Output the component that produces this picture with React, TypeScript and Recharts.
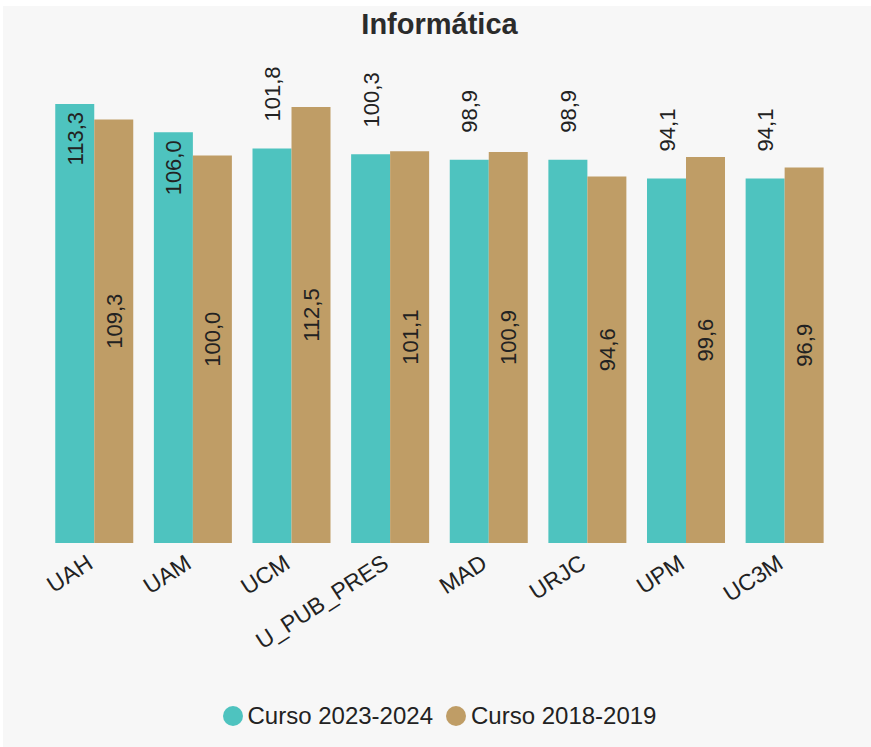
import React from 'react';
import { Bar, BarChart, LabelList, Legend, XAxis, YAxis } from 'recharts';

const categories = ['UAH', 'UAM', 'UCM', 'U_PUB_PRES', 'MAD', 'URJC', 'UPM', 'UC3M'];
const curso2023 = [113.3, 106.0, 101.8, 100.3, 98.9, 98.9, 94.1, 94.1];
const curso2018 = [109.3, 100.0, 112.5, 101.1, 100.9, 94.6, 99.6, 96.9];
const seriesNames = ['Curso 2023-2024', 'Curso 2018-2019'];

const TEAL = '#4ec3bf';
const TAN = '#bf9d66';
const BG = '#f7f7f7';
const TEXT = '#222222';
const FONT = '"Liberation Sans", Arial, Helvetica, sans-serif';

const W = 868;
const H = 741;

const data = categories.map((name, i) => ({
  name,
  c2023: curso2023[i],
  c2018: curso2018[i],
}));

const fmt = (v: number) => v.toFixed(1).replace('.', ',');

// teal labels sit above the bar, or inside its top when there is no room
function TopLabel(props: any) {
  const { x, y, width, value } = props;
  const cx = x + width / 2 + 8;
  const inside = y - 82 < 50;
  const ty = inside ? y + 8 : y - 27;
  return (
    <text
      x={cx}
      y={ty}
      transform={`rotate(-90, ${cx}, ${ty})`}
      textAnchor={inside ? 'end' : 'start'}
      fontSize={22}
      fontFamily={FONT}
      fill={TEXT}
    >
      {fmt(value)}
    </text>
  );
}

function MidLabel(props: any) {
  const { x, y, width, height, value } = props;
  const cx = x + width / 2 + 8;
  const ty = y + height / 2 - 10;
  return (
    <text
      x={cx}
      y={ty}
      transform={`rotate(-90, ${cx}, ${ty})`}
      textAnchor="middle"
      fontSize={22}
      fontFamily={FONT}
      fill={TEXT}
    >
      {fmt(value)}
    </text>
  );
}

function CategoryTick(props: any) {
  const { x, y, payload } = props;
  const ty = y + 24;
  return (
    <text
      x={x}
      y={ty}
      transform={`rotate(-33, ${x}, ${ty})`}
      textAnchor="end"
      fontSize={23}
      fontFamily={FONT}
      fill={TEXT}
    >
      {payload.value}
    </text>
  );
}

function LegendContent() {
  const colors = [TEAL, TAN];
  return (
    <div
      style={{
        display: 'flex',
        justifyContent: 'center',
        alignItems: 'center',
        height: 30,
        fontFamily: FONT,
        fontSize: 24,
        color: TEXT,
      }}
    >
      {seriesNames.map((n, i) => (
        <div key={n} style={{ display: 'flex', alignItems: 'center', marginLeft: i ? 13 : 0 }}>
          <span
            style={{
              width: 20,
              height: 20,
              borderRadius: '50%',
              background: colors[i],
              marginRight: 5,
              display: 'inline-block',
            }}
          />
          <span>{n}</span>
        </div>
      ))}
    </div>
  );
}

export default function App() {
  return (
    <div style={{ position: 'absolute', left: 3, top: 6, width: W, height: H, background: BG }}>
      <div
        style={{
          position: 'absolute',
          left: 42,
          width: 789,
          top: 4,
          textAlign: 'center',
          fontFamily: FONT,
          fontWeight: 'bold',
          fontSize: 29,
          lineHeight: '29px',
          color: '#2b2b2b',
        }}
      >
        Informática
      </div>
      <BarChart
        width={W}
        height={H}
        data={data}
        margin={{ top: 98, right: 37, left: 42, bottom: 16 }}
        barCategoryGap="10.4%"
        barGap={0}
      >
        <XAxis
          dataKey="name"
          interval={0}
          height={158}
          axisLine={false}
          tickLine={false}
          tickSize={0}
          tickMargin={0}
          tick={<CategoryTick />}
        />
        <YAxis hide domain={[0, 'dataMax']} />
        <Legend verticalAlign="bottom" height={30} content={<LegendContent />} />
        <Bar dataKey="c2023" name={seriesNames[0]} fill={TEAL} isAnimationActive={false}>
          <LabelList dataKey="c2023" content={<TopLabel />} />
        </Bar>
        <Bar dataKey="c2018" name={seriesNames[1]} fill={TAN} isAnimationActive={false}>
          <LabelList dataKey="c2018" content={<MidLabel />} />
        </Bar>
      </BarChart>
    </div>
  );
}
